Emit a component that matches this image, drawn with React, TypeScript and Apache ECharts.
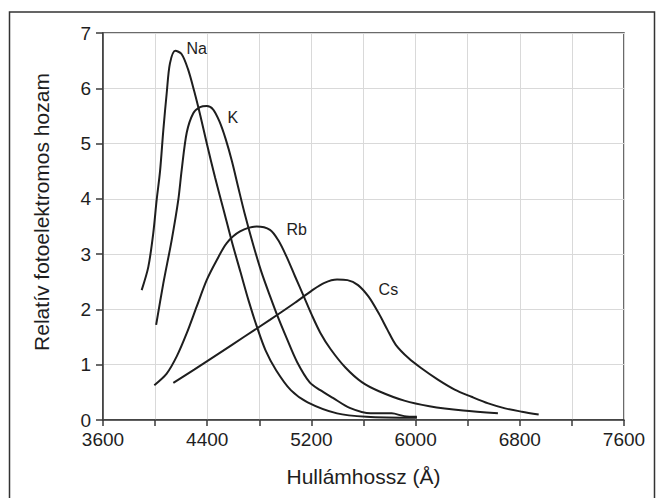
import React, { useEffect, useRef } from "react";
import * as echarts from "echarts";

// Wavelength (Å) and relative photoelectric yield for each alkali metal
const naWave = [3897, 3948, 3986, 4012, 4038, 4063, 4089, 4114, 4155, 4203, 4252, 4300, 4348, 4397, 4461, 4526, 4590, 4655, 4719, 4784, 4848, 4929, 5042, 5171, 5397, 5623, 6010];
const naVal = [2.35, 2.77, 3.38, 3.98, 4.5, 5.24, 5.91, 6.45, 6.68, 6.62, 6.35, 5.95, 5.5, 5.0, 4.38, 3.8, 3.22, 2.68, 2.15, 1.67, 1.26, 0.9, 0.54, 0.32, 0.12, 0.06, 0.04];

const kWave = [4008, 4063, 4127, 4178, 4204, 4243, 4293, 4345, 4397, 4445, 4494, 4542, 4590, 4639, 4687, 4752, 4816, 4881, 4945, 5010, 5090, 5187, 5268, 5365, 5494, 5655, 5816, 5913, 6010];
const kVal = [1.72, 2.47, 3.25, 3.98, 4.52, 5.2, 5.55, 5.66, 5.68, 5.62, 5.4, 5.08, 4.68, 4.2, 3.74, 3.18, 2.68, 2.25, 1.85, 1.48, 1.05, 0.68, 0.54, 0.4, 0.22, 0.12, 0.12, 0.07, 0.06];

const rbWave = [3994, 4089, 4166, 4243, 4319, 4396, 4473, 4550, 4652, 4780, 4882, 4946, 5010, 5074, 5139, 5203, 5268, 5348, 5461, 5590, 5719, 5913, 6106, 6365, 6632];
const rbVal = [0.63, 0.84, 1.15, 1.57, 2.05, 2.53, 2.89, 3.2, 3.41, 3.5, 3.44, 3.25, 2.95, 2.6, 2.25, 1.9, 1.58, 1.28, 0.95, 0.68, 0.52, 0.35, 0.25, 0.17, 0.12];

const csWave = [4140, 4300, 4494, 4687, 4881, 5074, 5203, 5300, 5397, 5477, 5558, 5639, 5719, 5784, 5848, 5945, 6042, 6171, 6300, 6429, 6558, 6687, 6816, 6945];
const csVal = [0.67, 0.91, 1.21, 1.51, 1.81, 2.12, 2.34, 2.48, 2.54, 2.53, 2.44, 2.23, 1.92, 1.63, 1.36, 1.12, 0.94, 0.73, 0.55, 0.42, 0.3, 0.21, 0.15, 0.1];

// Curve labels, placed in data coordinates
const seriesNames = ["Na", "K", "Rb", "Cs"];
const labelWave = [4319, 4596, 5087, 5791];
const labelVal = [6.72, 5.48, 3.45, 2.36];

// Axis ticks
const xMin = 3600;
const xMax = 7600;
const xStep = 800;
const yMin = 0;
const yMax = 7;
const yStep = 1;

const xTitle = "Hullámhossz (Å)";
const yTitle = "Relatív fotoelektromos hozam";

const pairs = (xs: number[], ys: number[]) => xs.map((x, i) => [x, ys[i]]);

export default function App() {
  const ref = useRef<HTMLDivElement>(null);

  useEffect(() => {
    if (!ref.current) return;
    const chart = echarts.init(ref.current, undefined, { renderer: "svg" });
    const font = "Liberation Sans, Arial, Helvetica, sans-serif";
    const lineColor = "#1e1e1e";
    const allWaves = [naWave, kWave, rbWave, csWave];
    const allVals = [naVal, kVal, rbVal, csVal];

    const series = seriesNames.map((name, i) => ({
      name,
      type: "line",
      data: pairs(allWaves[i], allVals[i]),
      smooth: 0.3,
      showSymbol: false,
      symbol: "none",
      lineStyle: { color: lineColor, width: 2 },
      z: 5,
      markPoint: {
        symbol: "circle",
        symbolSize: 1,
        itemStyle: { color: "rgba(0,0,0,0)" },
        label: {
          show: true,
          position: "inside",
          formatter: name,
          color: "#1e1e1e",
          fontSize: 16,
          fontFamily: font,
        },
        data: [{ coord: [labelWave[i], labelVal[i]], value: name }],
      },
    }));

    chart.setOption({
      animation: false,
      backgroundColor: "#ffffff",
      textStyle: { fontFamily: font },
      grid: {
        left: 103,
        right: 36,
        top: 33,
        bottom: 78,
        show: true,
        borderColor: "#3a3a3a",
        borderWidth: 1.5,
        backgroundColor: "transparent",
      },
      xAxis: {
        type: "value",
        min: xMin,
        max: xMax,
        interval: xStep,
        name: xTitle,
        nameLocation: "middle",
        nameGap: 46,
        nameTextStyle: { fontSize: 21, color: "#1e1e1e", fontFamily: font },
        axisLine: { show: true, lineStyle: { color: "#3a3a3a", width: 1.5 } },
        axisTick: { show: true, length: 6, lineStyle: { color: "#3a3a3a", width: 1.5 } },
        minorTick: { show: true, splitNumber: 2, length: 6, lineStyle: { color: "#3a3a3a", width: 1.5 } },
        splitLine: { show: true, lineStyle: { color: "#d9d9d9", width: 1 } },
        minorSplitLine: { show: true, lineStyle: { color: "#d9d9d9", width: 1 } },
        axisLabel: {
          fontSize: 19,
          color: "#1e1e1e",
          margin: 10,
          fontFamily: font,
          formatter: (v: number) => String(v),
        },
      },
      yAxis: {
        type: "value",
        min: yMin,
        max: yMax,
        interval: yStep,
        axisLine: { show: true, lineStyle: { color: "#3a3a3a", width: 1.5 } },
        axisTick: { show: true, length: 7, lineStyle: { color: "#3a3a3a", width: 1.5 } },
        splitLine: { show: true, lineStyle: { color: "#d9d9d9", width: 1 } },
        axisLabel: {
          fontSize: 19,
          color: "#1e1e1e",
          margin: 12,
          fontFamily: font,
          formatter: (v: number) => String(v),
        },
      },
      graphic: [
        {
          type: "rect",
          shape: { x: 9.5, y: 12, width: 645, height: 520 },
          style: { fill: "none", stroke: "#333333", lineWidth: 1.5 },
          z: 0,
          silent: true,
        },
        {
          type: "text",
          x: 41,
          y: 212,
          rotation: Math.PI / 2,
          style: {
            text: yTitle,
            fontSize: 21,
            fontFamily: font,
            fill: "#1e1e1e",
            align: "center",
            verticalAlign: "middle",
          },
          silent: true,
        },
      ],
      series,
    });

    return () => chart.dispose();
  }, []);

  return (
    <div
      ref={ref}
      style={{ position: "fixed", left: 0, top: 0, width: 660, height: 498, background: "#fff" }}
    />
  );
}
